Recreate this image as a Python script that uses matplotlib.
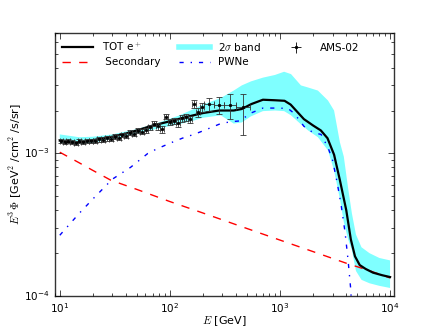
import numpy as np
import matplotlib
matplotlib.use("Agg")
import matplotlib.pyplot as plt
from matplotlib.lines import Line2D

plt.style.use("classic")

# model curves (E in GeV, E^3 Phi in 1e-3 GeV^2/cm^2/s/sr)
e_tot = [10, 12, 14, 17, 20, 25, 30, 40, 50, 70, 100, 140, 200, 280, 380, 450,
         550, 700, 900, 1100, 1250, 1450, 1650, 2000, 2350, 2700, 3100, 3500,
         4000, 4400, 4800, 5300, 6000, 7000, 8500, 10000]
tot = [1.23, 1.20, 1.19, 1.21, 1.24, 1.28, 1.31, 1.38, 1.45, 1.57, 1.68, 1.80,
       1.92, 2.00, 2.00, 2.05, 2.22, 2.38, 2.36, 2.34, 2.20, 1.94, 1.74, 1.57,
       1.45, 1.28, 0.98, 0.65, 0.40, 0.25, 0.19, 0.165, 0.155, 0.146, 0.14,
       0.136]

e_sec = [10, 15, 20, 29, 50, 100, 191, 500, 1000, 2000, 4000, 6300, 10000]
sec = [1.02, 0.86, 0.76, 0.65, 0.56, 0.46, 0.387, 0.298, 0.247, 0.205, 0.170,
       0.152, 0.134]

e_pwn = [10, 15, 20, 30, 44, 63, 75, 100, 130, 165, 200, 290, 360, 430, 545,
         700, 900, 1180, 1300, 1460, 1650, 2000, 2360, 2730, 3000, 3300, 3600,
         3900, 4150, 4400, 4600, 4700]
pwn = [0.267, 0.38, 0.48, 0.66, 0.80, 1.0, 1.07, 1.18, 1.28, 1.36, 1.44, 1.62,
       1.67, 1.69, 1.92, 2.08, 2.08, 2.07, 1.95, 1.76, 1.55, 1.40, 1.36, 1.10,
       0.90, 0.63, 0.43, 0.28, 0.18, 0.11, 0.05, 0.001]

# 2 sigma band
e_band = [10, 15, 20, 30, 50, 80, 120, 165, 200, 290, 380, 450, 545, 700, 900,
          1090, 1260, 1550, 1800, 2210, 2730, 3100, 3500, 3800, 4160, 4500,
          4900, 5500, 6500, 8000, 10000]
band_hi = [1.36, 1.30, 1.31, 1.36, 1.48, 1.65, 1.84, 2.05, 2.20, 2.45, 2.76,
           3.00, 3.20, 3.40, 3.55, 3.74, 3.60, 3.00, 2.90, 2.76, 2.35, 2.00,
           1.20, 0.95, 0.57, 0.38, 0.27, 0.22, 0.20, 0.185, 0.178]
band_lo = [1.19, 1.17, 1.19, 1.26, 1.38, 1.50, 1.60, 1.70, 1.78, 1.85, 1.62,
           1.65, 1.82, 1.98, 2.00, 1.98, 1.85, 1.60, 1.45, 1.30, 1.05, 0.76,
           0.48, 0.33, 0.25, 0.21, 0.15, 0.13, 0.123, 0.118, 0.114]

# AMS-02 positrons
ams_edges = [10.0, 10.7, 11.5, 12.4, 13.4, 14.5, 15.7, 17.0, 18.5, 20.0, 21.7,
             23.5, 25.6, 27.8, 30.2, 32.8, 35.6, 38.6, 42.0, 45.6, 49.6, 53.9,
             58.6, 63.7, 69.2, 75.2, 81.7, 88.8, 96.5, 104.9, 114, 124, 135,
             146.9, 159.9, 174, 189.3, 206, 250, 310, 400, 530]
ams_flux = [1.22, 1.21, 1.23, 1.20, 1.18, 1.22, 1.20, 1.23, 1.22, 1.23, 1.26,
            1.25, 1.28, 1.27, 1.31, 1.29, 1.35, 1.33, 1.40, 1.37, 1.44, 1.42,
            1.46, 1.53, 1.62, 1.55, 1.48, 1.81, 1.66, 1.70, 1.63, 1.76, 1.80,
            1.73, 2.22, 1.95, 2.10, 2.22, 2.20, 2.17, 2.10]
ams_err_lo = [0.04] * 10 + [0.05] * 10 + [0.06] * 5 + [0.08] * 5 + [0.10] * 4 \
    + [0.14] * 3 + [0.22, 0.30, 0.42, 0.75]
ams_err_hi = [0.04] * 10 + [0.05] * 10 + [0.06] * 5 + [0.08] * 5 + [0.10] * 4 \
    + [0.14] * 3 + [0.22, 0.30, 0.42, 0.50]

s = 1e-3
edges = np.array(ams_edges)
e_ams = np.sqrt(edges[:-1] * edges[1:])
xerr = [e_ams - edges[:-1], edges[1:] - e_ams]
yerr = [np.array(ams_err_lo) * s, np.array(ams_err_hi) * s]

fig = plt.figure(figsize=(4.38, 3.29), dpi=100)
fig.patch.set_facecolor("white")
ax = fig.add_subplot(111)
fig.subplots_adjust(left=0.125, right=0.9, bottom=0.1, top=0.9)

ax.fill_between(e_band, np.array(band_lo) * s, np.array(band_hi) * s,
                facecolor="cyan", edgecolor="none", alpha=0.5)
ax.plot(e_sec, np.array(sec) * s, "r--", lw=1.0)
ax.plot(e_pwn, np.array(pwn) * s, "b-.", lw=1.0)
ax.plot(e_tot, np.array(tot) * s, "k-", lw=1.6)
ax.errorbar(e_ams, np.array(ams_flux) * s, xerr=xerr, yerr=yerr, fmt="o",
            color="k", ecolor="#333333", ms=1.8, mec="k", elinewidth=0.6,
            capsize=2, capthick=0.6)

ax.set_xscale("log")
ax.set_yscale("log")
ax.set_xlim(9.0, 1.09e4)
ax.set_ylim(1e-4, 7e-3)
ax.tick_params(labelsize=7.5, which="both")
ax.tick_params(which="major", length=4)
ax.tick_params(which="minor", length=2)
ax.tick_params(axis="x", which="both", pad=4)
ax.tick_params(axis="y", which="both", pad=4)
for sp in ax.spines.values():
    sp.set_linewidth(1.0)
    sp.set_color("#333333")

ax.set_xlabel(r"$E$ [GeV]", fontsize=8, labelpad=-1)
ax.set_ylabel(r"$E^3\,\Phi$ [GeV$^2$ /cm$^2$ /s/sr]", fontsize=8, labelpad=0)

handles = [
    Line2D([], [], color="k", lw=1.6),
    Line2D([], [], color="r", ls="--", lw=1.0),
    Line2D([], [], color="cyan", lw=4, alpha=0.5),
    Line2D([], [], color="b", ls="-.", lw=1.0),
    ax.errorbar([], [], xerr=[], yerr=[], fmt="o", color="k", ms=1.8,
                elinewidth=0.6, capsize=2, capthick=0.6),
]
labels = [r"TOT e$^+$", " Secondary", r"2$\sigma$ band", "PWNe", "AMS-02"]
ax.legend(handles, labels, loc="upper left", ncol=3, frameon=False,
          fontsize=7.5, numpoints=1, handlelength=3.0, columnspacing=1.8,
          labelspacing=0.4, borderaxespad=0.3)

fig.savefig("out.png", dpi=100, facecolor="white")
